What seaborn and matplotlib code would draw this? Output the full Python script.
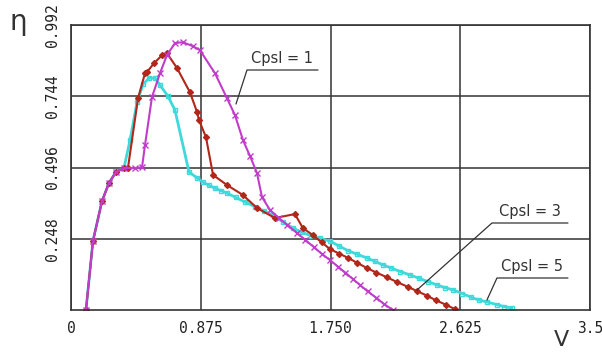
import matplotlib
matplotlib.use("Agg")
import matplotlib.pyplot as plt
import seaborn as sns
import pandas as pd

# Shared low-speed start of all three curves
start_v = [0.101, 0.148, 0.209, 0.256, 0.303, 0.357]
start_eta = [0.000, 0.240, 0.379, 0.442, 0.480, 0.494]

# Cpsl = 5 (cyan)
v5 = start_v + [0.398, 0.445, 0.486, 0.526, 0.566, 0.600, 0.654, 0.701, 0.796, 0.850, 0.890, 0.930,
                0.971, 1.012, 1.052, 1.110, 1.173, 1.240, 1.300, 1.362, 1.430, 1.497, 1.560, 1.620,
                1.680, 1.746, 1.810, 1.870, 1.930, 1.996, 2.050, 2.104, 2.160, 2.220, 2.286,
                2.350, 2.410, 2.470, 2.520, 2.576, 2.640, 2.700, 2.750, 2.805, 2.870, 2.920, 2.974]
eta5 = start_eta + [0.591, 0.723, 0.786, 0.807, 0.807, 0.783, 0.744, 0.696, 0.480, 0.460, 0.445, 0.434,
                    0.424, 0.415, 0.407, 0.392, 0.376, 0.360, 0.345, 0.330, 0.306, 0.285, 0.270, 0.258,
                    0.249, 0.240, 0.222, 0.206, 0.194, 0.181, 0.169, 0.157, 0.146, 0.134, 0.122,
                    0.110, 0.098, 0.087, 0.078, 0.070, 0.057, 0.044, 0.035, 0.028, 0.019, 0.012, 0.007]

# Cpsl = 3 (dark red)
v3 = start_v + [0.384, 0.452, 0.499, 0.512, 0.560, 0.614, 0.647, 0.715, 0.802, 0.850, 0.863,
                0.910, 0.958, 1.052, 1.160, 1.254, 1.376, 1.510, 1.564, 1.630, 1.690, 1.746,
                1.810, 1.870, 1.930, 1.996, 2.060, 2.130, 2.200, 2.270, 2.333, 2.400, 2.460,
                2.530, 2.589]
eta3 = start_eta + [0.494, 0.737, 0.824, 0.828, 0.859, 0.887, 0.894, 0.842, 0.758, 0.689, 0.661,
                    0.602, 0.470, 0.435, 0.400, 0.355, 0.320, 0.334, 0.285, 0.261, 0.236, 0.212,
                    0.196, 0.181, 0.164, 0.146, 0.130, 0.114, 0.097, 0.081, 0.066, 0.050, 0.034,
                    0.018, 0.003]

# Cpsl = 1 (magenta)
v1 = start_v + [0.432, 0.479, 0.499, 0.546, 0.600, 0.647, 0.701, 0.755, 0.823, 0.870, 0.971,
                1.052, 1.106, 1.160, 1.207, 1.254, 1.288, 1.342, 1.400, 1.460, 1.524, 1.580,
                1.640, 1.690, 1.746, 1.800, 1.850, 1.900, 1.949, 2.000, 2.060, 2.110, 2.171]
eta1 = start_eta + [0.494, 0.497, 0.574, 0.741, 0.824, 0.887, 0.929, 0.932, 0.918, 0.904, 0.824,
                    0.737, 0.678, 0.591, 0.536, 0.477, 0.393, 0.348, 0.321, 0.295, 0.268, 0.244,
                    0.218, 0.196, 0.174, 0.151, 0.130, 0.108, 0.087, 0.065, 0.042, 0.021, 0.000]

x_ticks = [0, 0.875, 1.750, 2.625, 3.5]
x_tick_labels = ["0", "0.875", "1.750", "2.625", "3.5"]
y_ticks = [0.248, 0.496, 0.744, 0.992]
y_tick_labels = ["0.248", "0.496", "0.744", "0.992"]
series_labels = ["Cpsl = 1", "Cpsl = 3", "Cpsl = 5"]

sns.set_style("white")
fig = plt.figure(figsize=(6.02, 3.58), dpi=100)
ax = fig.add_axes([71/602, 48/358, 519/602, 285/358])

mono = "DejaVu Sans Mono"

series = [
    (v5, eta5, "#3fd9dc", "s", 3.2, 2.0),
    (v3, eta3, "#b3261a", "D", 3.0, 1.5),
    (v1, eta1, "#c23ccc", "x", 4.5, 1.5),
]
for v, e, col, mk, ms, lw in series:
    df = pd.DataFrame({"V": v, "eta": e})
    sns.lineplot(data=df, x="V", y="eta", sort=False, estimator=None, ax=ax,
                 color=col, lw=lw, marker=mk, markersize=ms,
                 markerfacecolor=col if mk != "s" else "none",
                 markeredgecolor=col, markeredgewidth=1.0)

ax.set_xlim(0, 3.5)
ax.set_ylim(0, 0.992)
ax.set_xticks(x_ticks)
ax.set_yticks(y_ticks)
ax.set_xticklabels(x_tick_labels, family=mono, fontsize=10.5, color="#222222")
ax.set_yticklabels(y_tick_labels, family=mono, fontsize=10.5, color="#222222",
                   rotation=90, va="center")
ax.tick_params(axis="both", length=0, pad=8)
ax.grid(True, color="#333333", lw=1.1)
for s in ax.spines.values():
    s.set_color("#333333")
    s.set_linewidth(1.2)
ax.set_xlabel("")
ax.set_ylabel("")

fig.text(18/602, 1 - 22/358, "η", fontsize=20, color="#333333", ha="center", va="center")
fig.text(561/602, 1 - 340/358, "V", fontsize=16, color="#333333", ha="center", va="center")

# annotations with underlined labels and leader lines (axes data coords)
def px2d(px, py):
    return ((px - 71) / 148.3, (310 - py) / 287.3)

annots = [
    (series_labels[0], (247, 70), (318, 70), (236, 104)),
    (series_labels[1], (492, 223), (568, 223), (417, 290)),
    (series_labels[2], (497, 278), (568, 278), (487, 300)),
]
for lab, (x0, y0), (x1, y1), (xt, yt) in annots:
    a = px2d(x0, y0); b = px2d(x1, y1); c = px2d(xt, yt)
    ax.plot([c[0], a[0], b[0]], [c[1], a[1], b[1]], color="#333333", lw=0.9, clip_on=False)
    ax.text((a[0] + b[0]) / 2, a[1] + 0.015, lab, ha="center", va="bottom",
            fontsize=10.5, color="#333333")

fig.savefig("out.png", dpi=100)
